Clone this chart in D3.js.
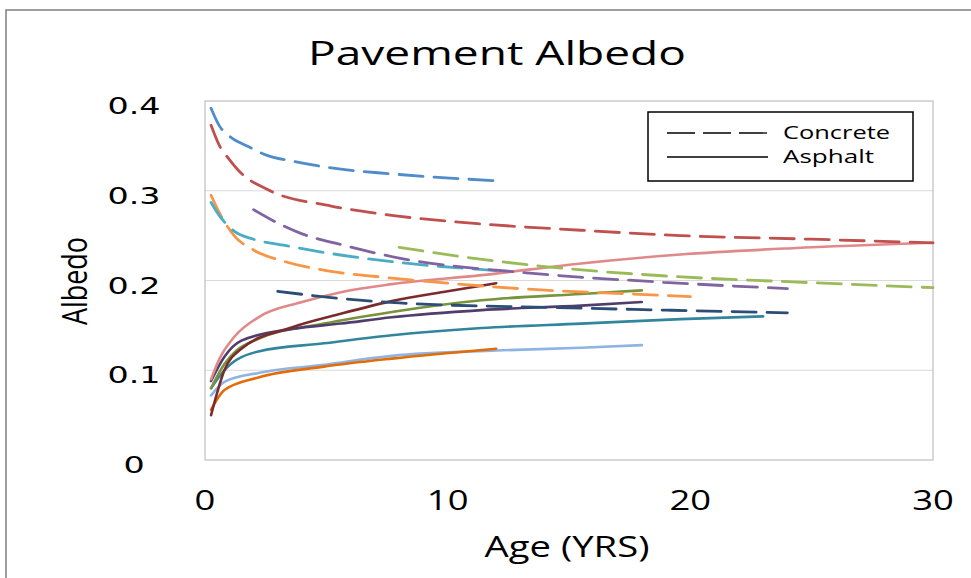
<!DOCTYPE html>
<html>
<head>
<meta charset="utf-8">
<script src="https://cdn.jsdelivr.net/npm/d3@7"></script>
<style>
  body { margin: 0; background: #fff; }
  svg { display: block; }
</style>
</head>
<body>
<svg id="chart" width="971" height="578"></svg>
<script>
// ---- data (age in years, albedo) ----
const concreteBlue   = [[0.25,0.392],[0.6,0.372],[1,0.361],[1.8,0.349],[2.5,0.340],[3.6,0.333],[5.6,0.324],[7.6,0.319],[12,0.311]];
const concreteRed    = [[0.25,0.373],[0.6,0.350],[1,0.335],[1.4,0.322],[2.6,0.301],[5.2,0.283],[7.3,0.274],[11.4,0.263],[15.5,0.256],[19.6,0.250],[25,0.246],[30,0.242]];
const concreteOrange = [[0.25,0.295],[0.6,0.275],[1.2,0.250],[2,0.234],[3.3,0.221],[5,0.211],[7.2,0.204],[10,0.197],[13.5,0.190],[17.6,0.185],[20,0.182]];
const concreteCyan   = [[0.25,0.287],[0.6,0.272],[1.2,0.255],[2,0.246],[3.3,0.239],[5.2,0.230],[7.7,0.221],[12,0.211]];
const concretePurple = [[2,0.279],[3,0.264],[4,0.252],[5.6,0.240],[8,0.225],[13.5,0.208],[18.9,0.198],[24,0.191]];
const concreteGreen  = [[8,0.237],[11,0.225],[14.2,0.215],[19,0.205],[24.6,0.198],[30,0.192]];
const concreteNavy   = [[3,0.188],[5.2,0.181],[8,0.175],[14.2,0.170],[19,0.167],[24,0.164]];

const asphaltPink     = [[0.25,0.090],[0.6,0.113],[1.2,0.137],[2.2,0.159],[4,0.176],[5.6,0.187],[7.7,0.196],[11.4,0.206],[15.5,0.219],[19.6,0.229],[24.2,0.236],[30,0.242]];
const asphaltMaroon   = [[0.25,0.050],[0.8,0.100],[1.5,0.124],[3.6,0.148],[5.6,0.163],[7.7,0.177],[10,0.188],[12,0.197]];
const asphaltOlive    = [[0.25,0.080],[0.8,0.107],[1.3,0.122],[2.2,0.135],[4.9,0.152],[7.7,0.165],[11.4,0.178],[15.5,0.185],[18,0.189]];
const asphaltPurple   = [[0.25,0.088],[0.8,0.115],[1.5,0.133],[3.6,0.146],[5.6,0.152],[7.7,0.159],[11.4,0.167],[15.5,0.172],[18,0.176]];
const asphaltTeal     = [[0.25,0.080],[0.8,0.100],[2.2,0.121],[4.9,0.130],[7.7,0.139],[11.4,0.147],[15.5,0.152],[19.6,0.157],[23,0.160]];
const asphaltLightBlue= [[0.25,0.072],[0.8,0.087],[2.2,0.097],[4.9,0.106],[7.7,0.116],[12,0.122],[15.5,0.125],[18,0.128]];
const asphaltOrange   = [[0.25,0.056],[0.8,0.078],[2.2,0.092],[4.9,0.104],[7.7,0.113],[12,0.124]];

const concreteSeries = [concreteBlue, concreteRed, concreteOrange, concreteCyan, concretePurple, concreteGreen, concreteNavy];
const concreteColors = ["#4f8cc9", "#c0504d", "#f79646", "#4bacc6", "#8064a2", "#9bbb59", "#2c4d75"];
const asphaltSeries = [asphaltLightBlue, asphaltOrange, asphaltTeal, asphaltOlive, asphaltPurple, asphaltMaroon, asphaltPink];
const asphaltColors = ["#8eb4e3", "#e36c09", "#31859c", "#77933c", "#4f3d6b", "#7b2b2b", "#e0898b"];

const xTicks = [0, 10, 20, 30];
const yTicks = [0, 0.1, 0.2, 0.3, 0.4];
const legendItems = ["Concrete", "Asphalt"];

// ---- layout ----
const svg = d3.select("#chart");
const plot = {left: 205, right: 933, top: 101, bottom: 460};
const stretch = 1.3; // the source image is widened, so text is drawn wider

const x = d3.scaleLinear().domain([0, 30]).range([plot.left, plot.right]);
const y = d3.scaleLinear().domain([0, 0.4]).range([plot.bottom, plot.top]);

// outer chart frame (cut off at the right and bottom)
svg.append("path")
  .attr("d", "M6,578 V10 H971")
  .attr("fill", "none").attr("stroke", "#7f7f7f").attr("stroke-width", 1.5);

// gridlines
svg.append("g").selectAll("line").data(yTicks.filter(d => d > 0 && d < 0.4)).join("line")
  .attr("x1", plot.left).attr("x2", plot.right)
  .attr("y1", d => y(d)).attr("y2", d => y(d))
  .attr("stroke", "#d9d9d9").attr("stroke-width", 1);

// plot area border
svg.append("rect")
  .attr("x", plot.left).attr("y", plot.top)
  .attr("width", plot.right - plot.left).attr("height", plot.bottom - plot.top)
  .attr("fill", "none").attr("stroke", "#bfbfbf").attr("stroke-width", 1.2);

// tick labels
svg.append("g").selectAll("text").data(yTicks).join("text")
  .attr("transform", d => `translate(134,${y(d) + 13}) scale(1.45,1)`)
  .attr("text-anchor", "middle")
  .attr("font-family", "'DejaVu Sans', sans-serif").attr("font-size", 23)
  .attr("fill", "#000")
  .text(d => d === 0 ? "0" : d3.format(".1f")(d));

svg.append("g").selectAll("text").data(xTicks).join("text")
  .attr("transform", d => `translate(${x(d)},510) scale(${stretch},1)`)
  .attr("text-anchor", "middle")
  .attr("font-family", "'Open Sans', sans-serif").attr("font-size", 28)
  .attr("fill", "#000")
  .text(d => d);

// titles
svg.append("text")
  .attr("x", 497).attr("y", 65)
  .attr("text-anchor", "middle")
  .attr("font-family", "'Open Sans', sans-serif").attr("font-size", 32)
  .attr("textLength", 378).attr("lengthAdjust", "spacingAndGlyphs")
  .text("Pavement Albedo");

svg.append("text")
  .attr("x", 567).attr("y", 557)
  .attr("text-anchor", "middle")
  .attr("font-family", "'Open Sans', sans-serif").attr("font-size", 30)
  .attr("textLength", 165).attr("lengthAdjust", "spacingAndGlyphs")
  .text("Age (YRS)");

svg.append("text")
  .attr("transform", "translate(87,281) rotate(-90)")
  .attr("text-anchor", "middle")
  .attr("font-family", "'Open Sans', sans-serif").attr("font-size", 35)
  .attr("textLength", 88).attr("lengthAdjust", "spacingAndGlyphs")
  .text("Albedo");

// ---- series ----
const line = d3.line()
  .x(d => x(d[0])).y(d => y(d[1]))
  .curve(d3.curveMonotoneX);

svg.append("g").selectAll("path").data(asphaltSeries).join("path")
  .attr("d", line)
  .attr("fill", "none")
  .attr("stroke", (d, i) => asphaltColors[i])
  .attr("stroke-width", 2.6)
  .attr("stroke-linecap", "round");

svg.append("g").selectAll("path").data(concreteSeries).join("path")
  .attr("d", line)
  .attr("fill", "none")
  .attr("stroke", (d, i) => concreteColors[i])
  .attr("stroke-width", 2.8)
  .attr("stroke-dasharray", "24,11")
  .attr("stroke-linecap", "round");

// ---- legend ----
const legend = svg.append("g");
legend.append("rect")
  .attr("x", 648).attr("y", 112).attr("width", 265).attr("height", 69)
  .attr("fill", "#fff").attr("stroke", "#000").attr("stroke-width", 1.5);

legend.selectAll("line").data(legendItems).join("line")
  .attr("x1", 667).attr("x2", 768)
  .attr("y1", (d, i) => 133 + i * 24).attr("y2", (d, i) => 133 + i * 24)
  .attr("stroke", "#000").attr("stroke-width", 1.3)
  .attr("stroke-dasharray", (d, i) => i === 0 ? "28,8" : null);

legend.selectAll("text").data(legendItems).join("text")
  .attr("x", 783).attr("y", (d, i) => 139 + i * 24)
  .attr("font-family", "'Open Sans', sans-serif").attr("font-size", 17.5)
  .attr("textLength", (d, i) => i === 0 ? 107 : 91).attr("lengthAdjust", "spacingAndGlyphs")
  .attr("fill", "#000")
  .text(d => d);
</script>
</body>
</html>
